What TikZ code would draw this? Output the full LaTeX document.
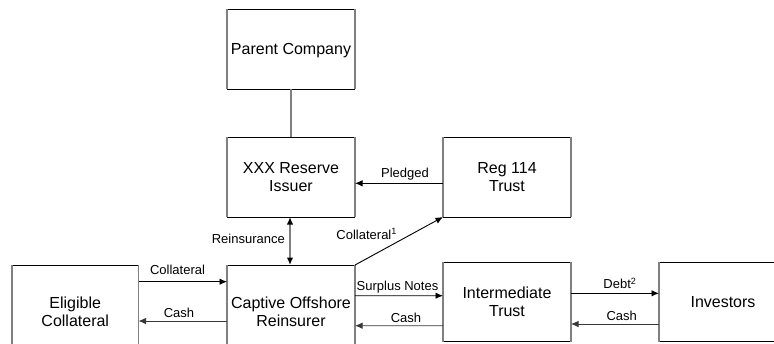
\documentclass[tikz,border=0pt]{standalone}
\usepackage{fontspec}
\setmainfont{Liberation Sans}
\usetikzlibrary{arrows.meta,calc}
\definecolor{edgegray}{RGB}{128,128,128}
\tikzset{
  boxnode/.style={rectangle,draw=none,inner sep=0pt,outer sep=0pt,minimum width=128bp,align=center,
    font=\fontsize{16bp}{18.3bp}\selectfont},
  hedge/.style={draw=black,line width=0.9bp},
  vedge/.style={draw=edgegray,line width=1.8bp},
  arr/.style={draw=black,line width=0.9bp,-{Latex[length=7.5bp,width=6.5bp]}},
  cashar/.style={arr,draw=black!78},
  lbl/.style={inner sep=0pt,anchor=base,font=\fontsize{13bp}{15bp}\selectfont},
}
\newcommand\boxedges[1]{%
  \draw[hedge] (#1.north west) -- (#1.north east) (#1.south west) -- (#1.south east);
  \draw[vedge] (#1.north west) -- (#1.south west) (#1.north east) -- (#1.south east);}
\begin{document}
\begin{tikzpicture}[x=1bp,y=-1bp]
\useasboundingbox (0,0) rectangle (774,343);
\clip (0,0) rectangle (774,343);
% boxes
\node[boxnode,minimum height=80bp,text depth=0pt] (parent) at (291,49) {Parent Company};
\node[boxnode,minimum height=80bp] (xxx) at (291,177) {XXX Reserve\\Issuer};
\node[boxnode,minimum height=80bp] (reg) at (507,177) {Reg 114\\Trust};
\node[boxnode,minimum width=126.5bp,minimum height=93bp] (elig) at (75.25,311.5) {Eligible\\Collateral};
\node[boxnode,minimum height=93bp] (capt) at (291,311.5) {Captive Offshore\\Reinsurer};
\node[boxnode,minimum height=79.6bp] (inter) at (507,302) {Intermediate\\Trust};
\node[boxnode,minimum height=79.6bp] (inv) at (723,302) {Investors};
\foreach \b in {parent,xxx,reg,elig,capt,inter,inv} {\boxedges{\b}}
% connectors
\draw[vedge] (parent.south) -- (xxx.north);
\draw[draw=edgegray,line width=1.6bp,{Latex[length=7.5bp,width=6.5bp,fill=black,color=black]}-{Latex[length=7.5bp,width=6.5bp,fill=black,color=black]}]
  ($(xxx.south)+(-1,0)$) -- ($(capt.north)+(-1,0)$);
\draw[arr] ($(reg.west)+(0,6.3)$) -- ($(xxx.east)+(0,6.3)$);
\draw[arr] (capt.north east) -- (reg.south west);
\draw[arr] ($(elig.north east)+(0,16.7)$) -- ($(capt.north west)+(0,16.7)$);
\draw[cashar] ($(capt.north west)+(0,56)$) -- ($(elig.north east)+(0,56)$);
\draw[arr] ($(capt.north east)+(0,30.7)$) -- ($(inter.north west)+(0,33.5)$);
\draw[cashar] ($(inter.north west)+(0,63.5)$) -- ($(capt.north east)+(0,60.7)$);
\draw[arr] ($(inter.north east)+(0,31.1)$) -- ($(inv.north west)+(0,31.1)$);
\draw[cashar] ($(inv.north west)+(0,61.8)$) -- ($(inter.north east)+(0,61.8)$);
% labels
\node[lbl] (lcoll) at (177.5,274.5) {Collateral};
\node[lbl] (lcashl) at (179,317.5) {Cash};
\node[lbl] (lsurp) at (397.5,290.5) {Surplus Notes};
\node[lbl] (lcashm) at (406,322.3) {Cash};
\node[lbl] (ldebt) at (620,288.5) {Debt\textsuperscript{2}};
\node[lbl] (lcashr) at (621.7,320) {Cash};
\node[lbl] (lpledged) at (405,177) {Pledged};
\node[lbl] (lreins) at (248.3,243.3) {Reinsurance};
\node[lbl] (lcoll1) at (366.7,239.3) {Collateral\textsuperscript{1}};
\end{tikzpicture}
\end{document}
